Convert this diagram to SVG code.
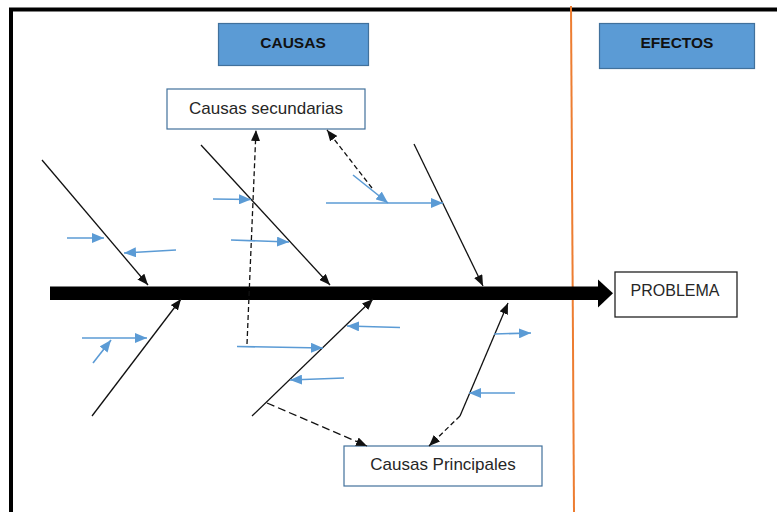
<svg xmlns="http://www.w3.org/2000/svg" width="777" height="512" viewBox="0 0 777 512">
  <style>
    .hdr { fill: #5B9BD5; stroke: #41719C; stroke-width: 1.2; }
    .hdr-t { font-family: "Liberation Sans", Arial, sans-serif; font-weight: bold; font-size: 15.5px; fill: #111; text-anchor: middle; }
    .box { fill: #fff; stroke: #41719C; stroke-width: 1.2; }
    .box-k { fill: #fff; stroke: #222; stroke-width: 1.3; }
    .lbl { font-family: "Liberation Sans", Arial, sans-serif; font-size: 17px; fill: #262626; text-anchor: middle; }
    .bone { stroke: #111; stroke-width: 1.3; fill: none; marker-end: url(#ah-k); }
    .sub { stroke: #5B9BD5; stroke-width: 1.6; fill: none; marker-end: url(#ah-b); }
    .dash { stroke: #111; stroke-width: 1.3; fill: none; stroke-dasharray: 5 3; marker-end: url(#ah-k); }
    .dash-long { stroke-dasharray: 8 4; }
  </style>
  <defs>
    <marker id="ah-k" markerUnits="userSpaceOnUse" markerWidth="11" markerHeight="9" refX="11" refY="4.5" orient="auto">
      <path d="M0,0 L11,4.5 L0,9 z" fill="#111"/>
    </marker>
    <marker id="ah-b" markerUnits="userSpaceOnUse" markerWidth="12" markerHeight="10" refX="12" refY="5" orient="auto">
      <path d="M0,0 L12,5 L0,10 z" fill="#5B9BD5"/>
    </marker>
  </defs>

  <rect width="777" height="512" fill="#fff"/>

  <!-- outer frame (top and left edges) -->
  <g id="frame" stroke="#000" stroke-width="4" fill="none">
    <line x1="9" y1="9.5" x2="777" y2="9.5"/>
    <line x1="11" y1="8" x2="11" y2="512"/>
  </g>

  <!-- divider between causes and effects -->
  <line id="divider" x1="571" y1="6" x2="574" y2="512" stroke="#ED7D31" stroke-width="2"/>

  <g id="causas">
    <rect class="hdr" x="218.5" y="23.5" width="150" height="42"/>
    <text class="hdr-t" x="293" y="48">CAUSAS</text>
  </g>
  <g id="efectos">
    <rect class="hdr" x="599.5" y="23.5" width="155" height="45"/>
    <text class="hdr-t" x="677" y="48">EFECTOS</text>
  </g>
  <g id="causas-secundarias">
    <rect class="box" x="167" y="89" width="198" height="40"/>
    <text class="lbl" x="266" y="114">Causas secundarias</text>
  </g>
  <g id="causas-principales">
    <rect class="box" x="344" y="446" width="198" height="40"/>
    <text class="lbl" x="443" y="470">Causas Principales</text>
  </g>
  <g id="problema">
    <rect class="box-k" x="615" y="272" width="122" height="45"/>
    <text class="lbl" x="675" y="296" style="font-size:16px">PROBLEMA</text>
  </g>

  <!-- spine -->
  <g id="spine" fill="#000">
    <rect x="50" y="286.5" width="550" height="13.5"/>
    <polygon points="598,279.5 613,293.2 598,307.5"/>
  </g>

  <g id="connectors">
    <!-- main bones, upper side -->
    <line class="bone" x1="42" y1="160" x2="148" y2="285"/>
    <line class="bone" x1="201" y1="145" x2="330" y2="285"/>
    <line class="bone" x1="414" y1="144" x2="483" y2="286"/>
    <!-- main bones, lower side -->
    <line class="bone" x1="92" y1="416" x2="181" y2="299"/>
    <line class="bone" x1="252" y1="416" x2="373" y2="299"/>
    <line class="bone" x1="460" y1="416" x2="508" y2="303"/>

    <!-- secondary causes, upper side -->
    <line class="sub" x1="67" y1="238" x2="104" y2="238"/>
    <line class="sub" x1="176" y1="250" x2="124" y2="253"/>
    <line class="sub" x1="213" y1="199" x2="251" y2="199.5"/>
    <line class="sub" x1="231" y1="240" x2="289" y2="242"/>
    <line class="sub" x1="326" y1="203" x2="443" y2="203"/>
    <line class="sub" x1="353" y1="175" x2="388" y2="203"/>

    <!-- secondary causes, lower side -->
    <line class="sub" x1="82" y1="338" x2="147" y2="338"/>
    <line class="sub" x1="93" y1="363" x2="111" y2="340"/>
    <line class="sub" x1="237" y1="346.5" x2="323" y2="348"/>
    <line class="sub" x1="400" y1="327.5" x2="347" y2="326"/>
    <line class="sub" x1="344" y1="378" x2="290" y2="380"/>
    <line class="sub" x1="494" y1="334" x2="531" y2="333"/>
    <line class="sub" x1="515" y1="393" x2="469" y2="393"/>

    <!-- label pointers -->
    <line class="dash" x1="247" y1="344" x2="256" y2="130"/>
    <line class="dash" x1="372" y1="188" x2="327" y2="130"/>
    <line class="dash dash-long" x1="267" y1="403" x2="367" y2="446"/>
    <line class="dash" x1="460" y1="416" x2="429" y2="446"/>
  </g>
</svg>
